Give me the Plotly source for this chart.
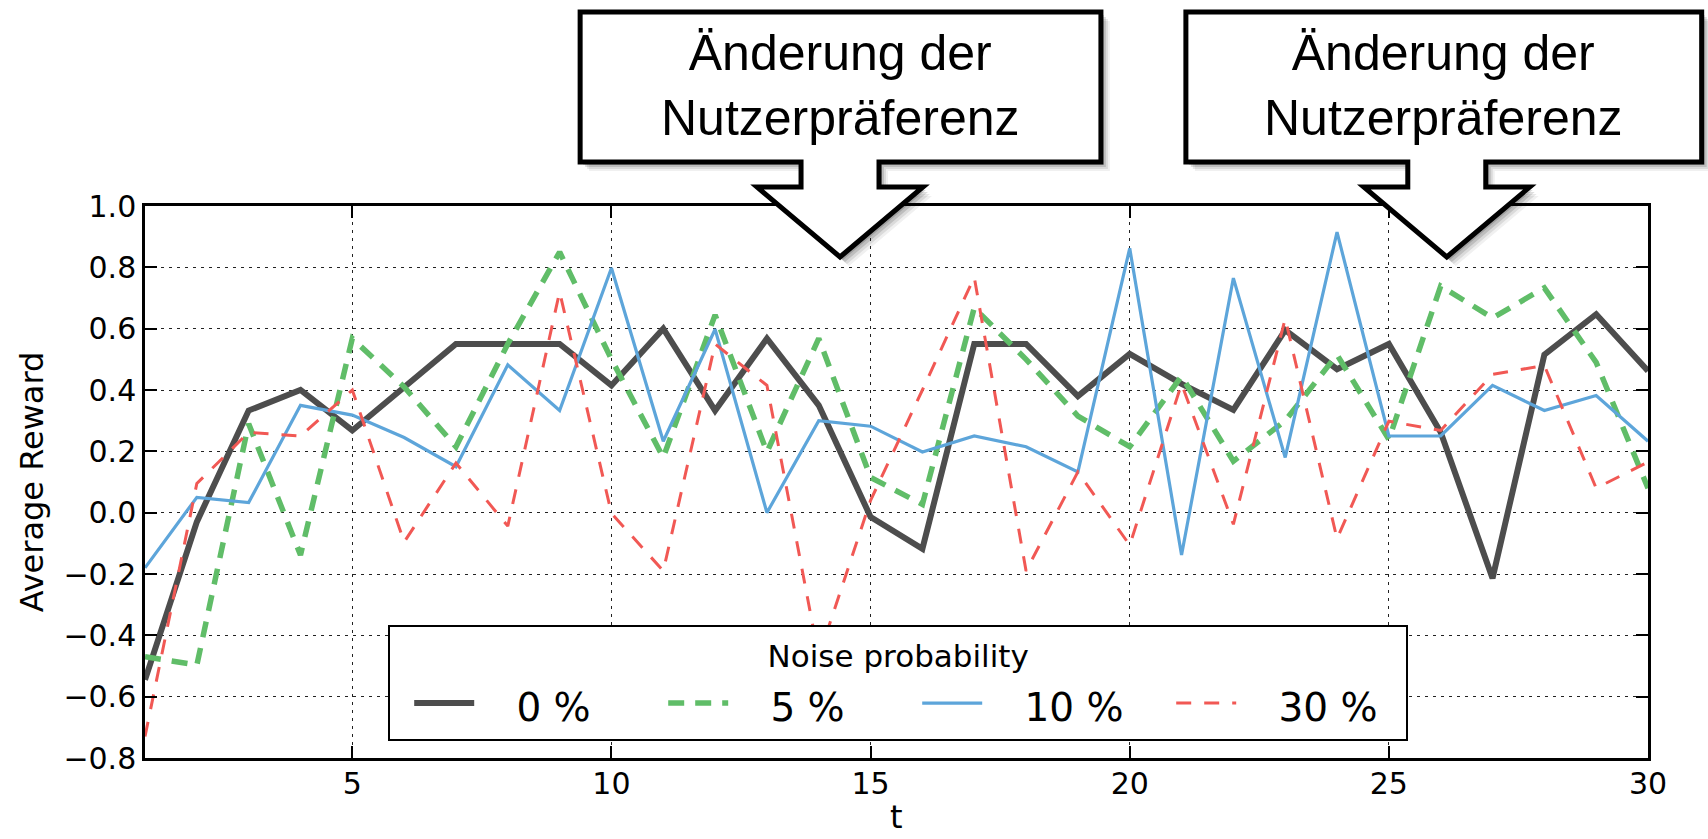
import plotly.graph_objects as go

# ---------------- data ----------------
t = list(range(1, 31))
reward_0 = [-0.545, -0.03, 0.333, 0.40, 0.268, 0.41, 0.55, 0.55, 0.55, 0.415,
            0.60, 0.333, 0.568, 0.35, -0.014, -0.118, 0.55, 0.55, 0.38, 0.518,
            0.42, 0.335, 0.595, 0.468, 0.55, 0.262, -0.214, 0.515, 0.647, 0.462]
reward_5 = [-0.47, -0.497, 0.29, -0.138, 0.568, 0.41, 0.215, 0.55, 0.85, 0.50,
            0.18, 0.645, 0.198, 0.568, 0.115, 0.027, 0.668, 0.50, 0.315, 0.215,
            0.445, 0.168, 0.30, 0.515, 0.239, 0.739, 0.635, 0.733, 0.49, 0.08]
reward_10 = [-0.18, 0.05, 0.033, 0.35, 0.318, 0.245, 0.15, 0.482, 0.333, 0.798,
             0.233, 0.598, 0.0, 0.30, 0.282, 0.198, 0.25, 0.215, 0.133, 0.862,
             -0.138, 0.765, 0.18, 0.915, 0.25, 0.25, 0.415, 0.333, 0.382, 0.233]
reward_30 = [-0.73, 0.095, 0.262, 0.25, 0.40, -0.096, 0.162, -0.044, 0.72, -0.002,
             -0.19, 0.55, 0.415, -0.47, 0.04, 0.40, 0.768, -0.19, 0.133, -0.106,
             0.42, -0.038, 0.633, -0.085, 0.298, 0.268, 0.451, 0.48, 0.08, 0.165]

series_names = ["0 %", "5 %", "10 %", "30 %"]
x_ticks = [5, 10, 15, 20, 25, 30]
y_ticks = [-0.8, -0.6, -0.4, -0.2, 0.0, 0.2, 0.4, 0.6, 0.8, 1.0]
callout_text = "Änderung der<br>Nutzerpräferenz"
legend_title = "Noise probability"
x_title = "t"
y_title = "Average Reward"

# ---------------- styles ----------------
colors = ["#4D4D4D", "#60BD68", "#5DA5DA", "#F15854"]
widths = [6, 5.5, 3.2, 3]
dashes = ["solid", "16px,11px", "solid", "15px,13px"]
label_pad = "\u00a0\u00a0\u00a0"   # gap between legend sample line and its label

W, H = 1708, 839
L, R, T, B = 144.7, 1648.3, 206, 758


def px(x):
    return (x - L) / (R - L)


def py(y):
    return (B - y) / (B - T)


fig = go.Figure()
for name, ys, c, w, d in zip(series_names, [reward_0, reward_5, reward_10, reward_30],
                             colors, widths, dashes):
    fig.add_trace(go.Scatter(
        x=t, y=ys, mode="lines",
        name=f"<span style='font-size:39px'>{label_pad}{name}</span>",
        line=dict(color=c, width=w, dash=d)))


def callout_path(cx, left, right, dx=0, dy=0):
    top, bottom = 12, 162
    stem, flare_y, flare, tip_y = 39, 187, 83, 257
    pts = [(left, top), (right, top), (right, bottom), (cx + stem, bottom),
           (cx + stem, flare_y), (cx + flare, flare_y), (cx, tip_y),
           (cx - flare, flare_y), (cx - stem, flare_y), (cx - stem, bottom),
           (left, bottom)]
    s = "M " + " L ".join(f"{px(x + dx):.5f},{py(y + dy):.5f}" for x, y in pts) + " Z"
    return s


shapes = []
annotations = []
for cx, left, right in [(840, 580, 1101), (1447, 1186, 1702)]:
    for off, alpha in [(9, 0.06), (7, 0.09), (5, 0.13), (3, 0.15)]:
        shapes.append(dict(type="path", xref="paper", yref="paper", layer="above",
                           path=callout_path(cx, left, right, off, off),
                           fillcolor=f"rgba(0,0,0,{alpha})", line=dict(width=0)))
    shapes.append(dict(type="path", xref="paper", yref="paper", layer="above",
                       path=callout_path(cx, left, right),
                       fillcolor="white", line=dict(color="black", width=5)))
    annotations.append(dict(xref="paper", yref="paper", x=px((left + right) / 2), y=py(85),
                            text=callout_text, showarrow=False, xanchor="center",
                            yanchor="middle",
                            font=dict(family="Liberation Sans, Arial", size=50, color="black")))

# x-axis title placed as a paper annotation, kept just inside the bottom edge
annotations.append(dict(xref="paper", yref="paper", x=0.5, y=py(838), text=x_title,
                        showarrow=False, xanchor="center", yanchor="bottom",
                        font=dict(family="DejaVu Sans", size=32, color="black")))

axis_common = dict(showline=True, linecolor="black", linewidth=2.5, mirror="ticks",
                   ticks="inside", ticklen=12, tickwidth=2, tickcolor="black",
                   showgrid=True, gridcolor="#222222", gridwidth=1, griddash="3px,5px",
                   zeroline=False, automargin=False,
                   tickfont=dict(family="DejaVu Sans", size=30, color="black"))

fig.update_layout(
    width=W, height=H,
    margin=dict(l=L, r=W - R, t=T, b=H - B, pad=0),
    paper_bgcolor="white", plot_bgcolor="white",
    font=dict(family="DejaVu Sans", color="black"),
    xaxis=dict(range=[1, 30], tickvals=x_ticks, ticklabelstandoff=-3,
               **axis_common),
    yaxis=dict(range=[-0.8, 1.0], tickvals=y_ticks, tickformat=".1f", ticklabelstandoff=0,
               title=dict(text=y_title, font=dict(size=32), standoff=11),
               **axis_common),
    legend=dict(x=px(388), y=py(625), xanchor="left", yanchor="top", orientation="h",
                bgcolor="white", bordercolor="black", borderwidth=2,
                font=dict(family="DejaVu Sans", size=45, color="black"),
                title=dict(text=legend_title, side="top center",
                           font=dict(family="DejaVu Sans", size=31)),
                entrywidth=160, entrywidthmode="pixels", itemwidth=60,
                indentation=19),
    shapes=shapes,
    annotations=annotations,
)

fig.write_html("out.html",
               config={"displayModeBar": False},
               post_script="document.body.style.margin='0px';"
                           "document.body.style.overflow='hidden';")
